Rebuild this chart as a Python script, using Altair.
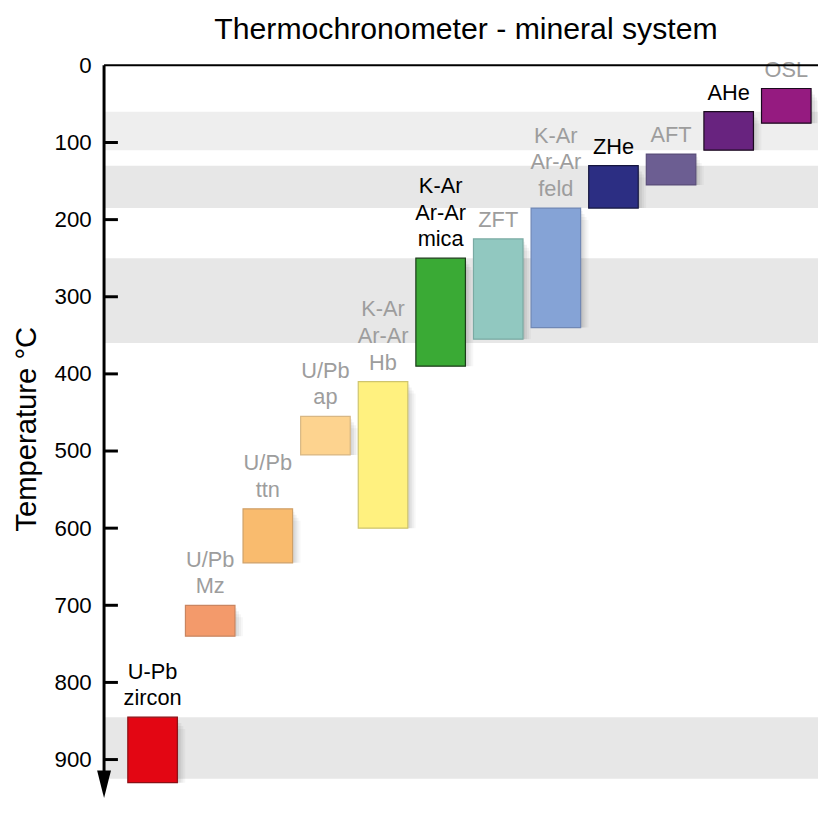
import altair as alt
import pandas as pd

FONT = "Liberation Sans"

# ---- data ----
names = ["U-Pb zircon", "U/Pb Mz", "U/Pb ttn", "U/Pb ap", "K-Ar Ar-Ar Hb",
         "K-Ar Ar-Ar mica", "ZFT", "K-Ar Ar-Ar feld", "ZHe", "AFT", "AHe", "OSL"]
label_lines = [["U-Pb", "zircon"], ["U/Pb", "Mz"], ["U/Pb", "ttn"], ["U/Pb", "ap"],
               ["K-Ar", "Ar-Ar", "Hb"], ["K-Ar", "Ar-Ar", "mica"], ["ZFT"],
               ["K-Ar", "Ar-Ar", "feld"], ["ZHe"], ["AFT"], ["AHe"], ["OSL"]]
t_top = [845, 700, 575, 455, 410, 250, 225, 185, 130, 115, 60, 30]
t_bottom = [930, 740, 645, 505, 600, 390, 355, 340, 185, 155, 110, 75]
fill_colors = ["#e30613", "#f39a6b", "#f9bb6e", "#fdd38f", "#fff17f", "#3aaa35",
               "#91c8c0", "#85a3d6", "#2c2e83", "#6c5e92", "#68237f", "#951b80"]
stroke_colors = ["#8a0f14", "#c98560", "#cfa068", "#d8b784", "#cfc56e", "#1c3d1a",
                 "#7aaaa3", "#7088b5", "#15163f", "#5a4e7a", "#1a0a1e", "#1a0a1e"]
label_colors = ["#000000", "#9d9d9d", "#9d9d9d", "#9d9d9d", "#9d9d9d", "#000000",
                "#9d9d9d", "#9d9d9d", "#000000", "#9d9d9d", "#000000", "#9d9d9d"]
band_start = [60, 130, 250, 845]
band_end = [110, 185, 360, 925]
band_colors = ["#eeeeee", "#e7e7e7", "#e7e7e7", "#e7e7e7"]
tick_values = [0, 100, 200, 300, 400, 500, 600, 700, 800, 900]

W = 721
H = 740
DOMAIN = [0, 950]
LINE_H = 27

bars = pd.DataFrame({"name": names, "top": t_top, "bottom": t_bottom,
                     "fill": fill_colors, "stroke": stroke_colors})
# one row per text line; k = position counted from the bottom line
rows = []
for n, lines, top, col in zip(names, label_lines, t_top, label_colors):
    for i, ln in enumerate(lines):
        rows.append({"name": n, "line": ln, "top": top, "lcolor": col, "k": len(lines) - 1 - i})
labels = pd.DataFrame(rows)
bands = pd.DataFrame({"s": band_start, "e": band_end, "c": band_colors})
ticks = pd.DataFrame({"t": tick_values[1:]})
one = pd.DataFrame({"k": [0]})

yscale = alt.Scale(domain=DOMAIN, reverse=True, nice=False, zero=False)
xscale = alt.Scale(domain=names, paddingInner=0.14, paddingOuter=0.2665, align=0.774)
yaxis = alt.Axis(
    values=tick_values, ticks=False, domain=False, grid=False,
    labelFontSize=22.5, labelFont=FONT, labelColor="black", labelPadding=13,
    labelFlush=False, labelOverlap=False,
    title="Temperature °C", titleFontSize=29.5, titleFont=FONT,
    titleFontWeight="normal", titleColor="black",
    titleX=-78, titleY=367, titleAlign="center", titleBaseline="middle")
xenc = alt.X("name:N", scale=xscale, axis=None)

band_layer = alt.Chart(bands).mark_rect().encode(
    x=alt.value(0), x2=alt.value(W),
    y=alt.Y("s:Q", scale=yscale, axis=yaxis), y2="e:Q",
    color=alt.Color("c:N", scale=None),
)

shadow_layers = []
for dx, dy, op in [(2, 3, 0.05), (4, 6, 0.05), (6, 9, 0.04), (8, 12, 0.03)]:
    shadow_layers.append(
        alt.Chart(bars).mark_rect(color="black", opacity=op, xOffset=dx, yOffset=dy).encode(
            x=xenc, y=alt.Y("top:Q", scale=yscale, axis=yaxis), y2="bottom:Q")
    )

bar_layer = alt.Chart(bars).mark_rect(strokeWidth=1.2).encode(
    x=xenc, y=alt.Y("top:Q", scale=yscale, axis=yaxis), y2="bottom:Q",
    fill=alt.Fill("fill:N", scale=None),
    stroke=alt.Stroke("stroke:N", scale=None),
)

text_layers = []
for k in range(3):
    text_layers.append(
        alt.Chart(labels).transform_filter(alt.datum.k == k).mark_text(
            baseline="alphabetic", dy=-12 - k * LINE_H, fontSize=22, font=FONT
        ).encode(
            x=xenc, y=alt.Y("top:Q", scale=yscale, axis=yaxis),
            text="line:N", color=alt.Color("lcolor:N", scale=None),
        )
    )

axis_line = alt.Chart(one).mark_rule(color="black", strokeWidth=3).encode(
    x=alt.value(0), y=alt.value(0), y2=alt.value(H - 20))
top_line = alt.Chart(one).mark_rule(color="black", strokeWidth=2).encode(
    x=alt.value(0), x2=alt.value(W), y=alt.value(0))
tick_layer = alt.Chart(ticks).mark_rule(color="black", strokeWidth=3).encode(
    y=alt.Y("t:Q", scale=yscale, axis=yaxis), x=alt.value(0), x2=alt.value(14))
arrow = alt.Chart(one).mark_point(
    shape="M-0.5,-1L0.5,-1L0,1Z", filled=True, size=784, color="black", opacity=1
).encode(x=alt.value(0), y=alt.value(H - 14))

chart = alt.layer(
    band_layer, *shadow_layers, bar_layer, *text_layers, axis_line, top_line, tick_layer, arrow
).properties(
    width=W, height=H,
    title=alt.TitleParams("Thermochronometer - mineral system", fontSize=30.5, font=FONT,
                          fontWeight="normal", anchor="middle", offset=9, dx=5, color="black"),
    autosize=alt.AutoSizeParams(type="none"),
    padding={"left": 97, "top": 54, "right": 0, "bottom": 0},
).configure_view(stroke=None)

chart.save("out.html", embed_options={"renderer": "svg", "actions": False})
